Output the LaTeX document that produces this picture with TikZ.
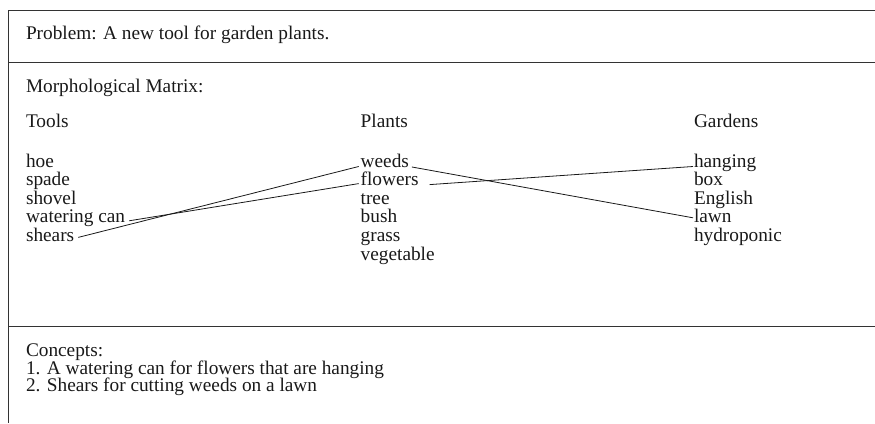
\documentclass[tikz,border=0pt]{standalone}
\usepackage{fontspec}
\setmainfont{Liberation Serif}
\usetikzlibrary{calc}
\begin{document}
\begin{tikzpicture}[x=1pt,y=-1pt,
  frame/.style={draw=black!80,line width=1pt},
  txt/.style={anchor=base west,inner sep=0pt,outer sep=0pt,text=black!90,
    font=\fontsize{19.3}{18.6}\selectfont},
  link/.style={draw=black!90,line width=0.8pt}]
\useasboundingbox (0,0) rectangle (875,423);
% panel frame: left edge and the three horizontal rules
\draw[frame] (875,10) -- (8,10) -- (8,423);
\draw[frame] (8,62.3) -- (875,62.3);
\draw[frame] (8,326) -- (875,326);
% headings
\node[txt] (prob) at (26,39) {Problem: A new tool for garden plants.};
\node[txt] (mm) at (26,92) {Morphological Matrix:};
\node[txt] (htools) at (26,127.3) {Tools};
\node[txt] (hplants) at (360.7,127.3) {Plants};
\node[txt] (hgardens) at (694,127.3) {Gardens};
% tools column
\node[txt] (hoe) at (26,167) {hoe};
\node[txt] (spade) at (26,185.6) {spade};
\node[txt] (shovel) at (26,204.2) {shovel};
\node[txt] (wcan) at (26,222.8) {watering can};
\node[txt] (shears) at (26,241.4) {shears};
% plants column
\node[txt] (weeds) at (360.7,167) {weeds};
\node[txt] (flowers) at (360.7,185.6) {flowers};
\node[txt] (tree) at (360.7,204.2) {tree};
\node[txt] (bush) at (360.7,222.8) {bush};
\node[txt] (grass) at (360.7,241.4) {grass};
\node[txt] (veg) at (360.7,260) {vegetable};
% gardens column
\node[txt] (hanging) at (694,167) {hanging};
\node[txt] (box) at (694,185.6) {box};
\node[txt] (english) at (694,204.2) {English};
\node[txt] (lawn) at (694,222.8) {lawn};
\node[txt] (hydro) at (694,241.4) {hydroponic};
% chosen combinations
\draw[link] ($(wcan.base east)+(4,-2)$) -- ($(flowers.base west)+(-2,-2)$);
\draw[link] ($(shears.base east)+(4,-4)$) -- ($(weeds.base west)+(-2,-0.5)$);
\draw[link] ($(weeds.base east)+(3,0)$) -- ($(lawn.base west)+(-1,-5)$);
\draw[link] ($(flowers.base east)+(11,-1)$) -- ($(hanging.base west)+(-1,-0.5)$);
% concepts
\node[txt] (concepts) at (26,356.7) {Concepts:};
\node[txt] (c1) at (26,374.2) {1. A watering can for flowers that are hanging};
\node[txt] (c2) at (26,391.7) {2. Shears for cutting weeds on a lawn};
\end{tikzpicture}
\end{document}
